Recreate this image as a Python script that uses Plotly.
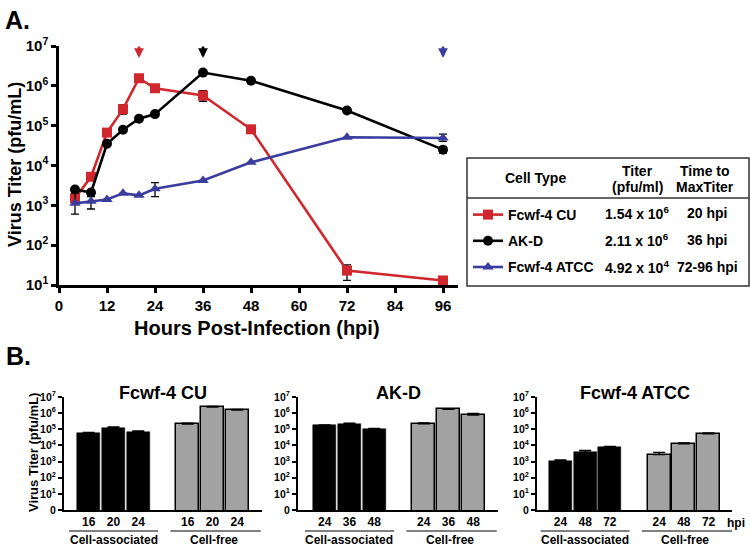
import plotly.graph_objects as go

W, H = 750, 549
def px(x): return x / W
def py(y): return 1 - y / H

FONT = "Liberation Sans, Arial, Helvetica, sans-serif"
RED = "#d0262d"
BLUE = "#3b3d9e"
BLACK = "#000000"
GRAY = "#a2a2a2"

# ---------------- Panel A data ----------------
hpi = [4, 8, 12, 16, 20, 24, 36, 48, 72, 96]
cu_titer = [1.5e3, 5.2e3, 6.7e4, 2.6e5, 1.55e6, 8.7e5, 5.7e5, 8.1e4, 23, 13]
cu_err_up = [0, 0, 0, 7e4, 0, 0, 1.9e5, 0, 9, 0]
cu_err_dn = [0, 0, 0, 6.5e4, 0, 0, 1.6e5, 0, 10, 0]
akd_titer = [2.5e3, 2.1e3, 3.5e4, 7.9e4, 1.5e5, 1.95e5, 2.15e6, 1.34e6, 2.4e5, 2.5e4]
akd_err_up = [0, 0, 0, 0, 0, 0, 0, 0, 0, 4.5e3]
akd_err_dn = [0, 0, 0, 0, 0, 0, 0, 0, 0, 4.5e3]
atcc_titer = [1.12e3, 1.26e3, 1.4e3, 2.0e3, 1.78e3, 2.6e3, 4.2e3, 1.2e4, 5.1e4, 4.92e4]
atcc_err_up = [9e2, 4e2, 0, 0, 0, 1.1e3, 0, 0, 0, 1.2e4]
atcc_err_dn = [5.2e2, 4.5e2, 0, 0, 0, 9.5e2, 0, 0, 0, 9e3]

series_names = ["Fcwf-4 CU", "AK-D", "Fcwf-4 ATCC"]
series_colors = [RED, BLACK, BLUE]
series_symbols = ["square", "circle", "triangle-up"]
peak_hpi = [20, 36, 96]

x_ticks_a = [0, 12, 24, 36, 48, 60, 72, 84, 96]
y_ticks_a = [1e1, 1e2, 1e3, 1e4, 1e5, 1e6, 1e7]
y_ticktext_a = ["10<sup>%d</sup>" % i for i in range(1, 8)]

# table
table_titer = ["1.54 x 10<sup>6</sup>", "2.11 x 10<sup>6</sup>", "4.92 x 10<sup>4</sup>"]
table_time = ["20 hpi", "36 hpi", "72-96 hpi"]

# ---------------- Panel B data ----------------
b_titles = ["Fcwf-4 CU", "AK-D", "Fcwf-4 ATCC"]
b_hpi_labels = [["16", "20", "24"], ["24", "36", "48"], ["24", "48", "72"]]
b_assoc = [[5.5e4, 1.2e5, 6.9e4], [1.75e5, 2.2e5, 1.07e5], [1.1e3, 3.8e3, 8.1e3]]
b_assoc_err = [[1.0e4, 2e4, 1e4], [1.5e4, 2e4, 5e3], [1.5e2, 1.2e3, 5e2]]
b_free = [[2.1e5, 2.4e6, 1.55e6], [2.2e5, 1.7e6, 7.6e5], [2.7e3, 1.26e4, 5.2e4]]
b_free_err = [[3e4, 2e5, 1.5e5], [3e4, 2e5, 2.2e5], [1e3, 1.5e3, 8e3]]
b_y_ticks = [1, 1e1, 1e2, 1e3, 1e4, 1e5, 1e6, 1e7]
b_y_ticktext = ["0"] + ["10<sup>%d</sup>" % i for i in range(1, 8)]

fig = go.Figure()

# Panel A traces
a_vals = [cu_titer, akd_titer, atcc_titer]
a_up = [cu_err_up, akd_err_up, atcc_err_up]
a_dn = [cu_err_dn, akd_err_dn, atcc_err_dn]
for i in range(3):
    fig.add_trace(go.Scatter(
        x=hpi, y=a_vals[i], name=series_names[i], mode="lines+markers",
        line=dict(color=series_colors[i], width=2.6),
        marker=dict(symbol=series_symbols[i], size=10, color=series_colors[i]),
        error_y=dict(type="data", array=a_up[i], arrayminus=a_dn[i], symmetric=False,
                     color="black", thickness=1.3, width=4),
        legendgroup="g%d" % i, cliponaxis=False,
        xaxis="x", yaxis="y",
    ))

# Panel B traces
b_xpos_assoc = [0, 1, 2]
b_xpos_free = [4, 5, 6]
for k in range(3):
    xa = "x%d" % (k + 2)
    ya = "y%d" % (k + 2)
    fig.add_trace(go.Bar(
        x=b_xpos_assoc, y=b_assoc[k], width=0.93, showlegend=False,
        marker=dict(color=BLACK, line=dict(color=BLACK, width=0.5)),
        error_y=dict(type="data", array=b_assoc_err[k], arrayminus=[0, 0, 0], symmetric=False,
                     color="black", thickness=1.3, width=6),
        xaxis=xa, yaxis=ya,
    ))
    fig.add_trace(go.Bar(
        x=b_xpos_free, y=b_free[k], width=0.93, showlegend=False,
        marker=dict(color=GRAY, line=dict(color=BLACK, width=1.5)),
        error_y=dict(type="data", array=b_free_err[k], arrayminus=[0, 0, 0], symmetric=False,
                     color="black", thickness=1.3, width=6),
        xaxis=xa, yaxis=ya,
    ))

layout = dict(
    width=W, height=H, margin=dict(l=0, r=0, t=0, b=0, autoexpand=False),
    paper_bgcolor="white", plot_bgcolor="rgba(0,0,0,0)",
    font=dict(family=FONT, color="black"),
    showlegend=True,
    legend=dict(x=px(468), y=py(199), xanchor="left", yanchor="top",
                bgcolor="rgba(0,0,0,0)", borderwidth=0,
                font=dict(family=FONT, size=14, color="black", weight="bold"),
                traceorder="grouped", tracegroupgap=5, itemwidth=30),
    bargap=0,
    xaxis=dict(domain=[px(59), px(458)], range=[0, 99.75], anchor="y",
               tickvals=x_ticks_a, ticks="outside", ticklen=5, tickwidth=2.5, tickcolor="black",
               showline=True, linewidth=2.5, linecolor="black", showgrid=False, zeroline=False,
               tickfont=dict(family=FONT, size=15, color="black", weight="bold")),
    yaxis=dict(domain=[py(285), py(46)], type="log", range=[1, 7], anchor="x",
               tickvals=y_ticks_a, ticktext=y_ticktext_a, ticks="outside", ticklen=5,
               tickwidth=2.5, tickcolor="black",
               showline=True, linewidth=2.5, linecolor="black", showgrid=False, zeroline=False,
               tickfont=dict(family=FONT, size=15, color="black", weight="bold")),
)

b_domains = [(64, 262, -1.0, 7.0), (298, 498, -1.08, 7.0), (537, 732, -0.95, 6.95)]
for k, (x0, x1, r0, r1) in enumerate(b_domains):
    n = k + 2
    layout["xaxis%d" % n] = dict(
        domain=[px(x0), px(x1)], range=[r0, r1], anchor="y%d" % n,
        tickvals=b_xpos_assoc + b_xpos_free, ticktext=b_hpi_labels[k] + b_hpi_labels[k],
        ticks="", showline=True, linewidth=2, linecolor="black", showgrid=False, zeroline=False,
        tickfont=dict(family=FONT, size=12, color="black", weight="bold"))
    layout["yaxis%d" % n] = dict(
        domain=[py(510), py(397)], type="log", range=[0, 7], anchor="x%d" % n,
        tickvals=b_y_ticks, ticktext=b_y_ticktext, ticks="outside", ticklen=4,
        tickwidth=1.5, tickcolor="black", showline=True, linewidth=2, linecolor="black",
        showgrid=False, zeroline=False,
        tickfont=dict(family=FONT, size=10.5, color="black", weight="bold"))

fig.update_layout(**layout)

def bold(t):
    return "<b>%s</b>" % t

ann = []
# Panel labels
ann.append(dict(text=bold("A."), x=px(3), y=py(20), xref="paper", yref="paper",
                xanchor="left", yanchor="middle", showarrow=False, font=dict(size=25)))
ann.append(dict(text=bold("B."), x=px(4), y=py(356), xref="paper", yref="paper",
                xanchor="left", yanchor="middle", showarrow=False, font=dict(size=25)))
# Panel A axis titles
ann.append(dict(text=bold("Hours Post-Infection (hpi)"), x=px(257), y=py(328), xref="paper",
                yref="paper", xanchor="center", yanchor="middle", showarrow=False,
                font=dict(size=20)))
ann.append(dict(text=bold("Virus Titer (pfu/mL)"), x=px(15), y=py(165), xref="paper",
                yref="paper", xanchor="center", yanchor="middle", showarrow=False,
                textangle=-90, font=dict(size=18)))
# Peak arrows
for i in range(3):
    ann.append(dict(text="", x=peak_hpi[i], y=6.70, xref="x", yref="y", ax=0, ay=-12,
                    showarrow=True, arrowhead=2, arrowsize=0.75, arrowwidth=2.6,
                    arrowcolor=series_colors[i], font=dict(size=1), borderpad=0,
                    standoff=0))
# Table header
hdr = [("Cell Type", 535, 178), ("Titer", 637, 171), ("(pfu/ml)", 637, 187),
       ("Time to", 705, 171), ("MaxTiter", 705, 187)]
for t, x, y in hdr:
    ann.append(dict(text=bold(t), x=px(x), y=py(y), xref="paper", yref="paper",
                    xanchor="center", yanchor="middle", showarrow=False, font=dict(size=14)))
row_y = [213, 240, 267]
for i in range(3):
    ann.append(dict(text=bold(table_titer[i]), x=px(637), y=py(row_y[i]), xref="paper",
                    yref="paper", xanchor="center", yanchor="middle", showarrow=False,
                    font=dict(size=14)))
    ann.append(dict(text=bold(table_time[i]), x=px(707), y=py(row_y[i]), xref="paper",
                    yref="paper", xanchor="center", yanchor="middle", showarrow=False,
                    font=dict(size=14)))
# Panel B titles & group labels
for k in range(3):
    n = k + 2
    ann.append(dict(text=bold(b_titles[k]), x=0.5, y=py(393), xref="x%d domain" % n,
                    yref="paper", xanchor="center", yanchor="middle", showarrow=False,
                    font=dict(size=18)))
    ann.append(dict(text=bold("Cell-associated"), x=1.0, y=py(540), xref="x%d" % n,
                    yref="paper", xanchor="center", yanchor="middle", showarrow=False,
                    font=dict(size=12)))
    ann.append(dict(text=bold("Cell-free"), x=5.05, y=py(540), xref="x%d" % n,
                    yref="paper", xanchor="center", yanchor="middle", showarrow=False,
                    font=dict(size=12)))
ann.append(dict(text=bold("Virus Titer (pfu/mL)"), x=px(33), y=py(453), xref="paper",
                yref="paper", xanchor="center", yanchor="middle", showarrow=False,
                textangle=-90, font=dict(size=13)))
ann.append(dict(text=bold("hpi"), x=px(747), y=py(523), xref="paper", yref="paper",
                xanchor="right", yanchor="middle", showarrow=False, font=dict(size=12)))

shapes = []
shapes.append(dict(type="rect", xref="paper", yref="paper", x0=px(467), x1=px(749),
                   y0=py(286), y1=py(158), line=dict(color="#333333", width=1.5)))
shapes.append(dict(type="line", xref="paper", yref="paper", x0=px(467), x1=px(749),
                   y0=py(198), y1=py(198), line=dict(color="#333333", width=1.5)))
for k in range(3):
    n = k + 2
    shapes.append(dict(type="line", xref="x%d" % n, yref="paper", x0=-0.8, x1=2.8,
                       y0=py(531), y1=py(531), line=dict(color="black", width=1)))
    shapes.append(dict(type="line", xref="x%d" % n, yref="paper", x0=3.3, x1=6.95,
                       y0=py(531), y1=py(531), line=dict(color="black", width=1)))

fig.update_layout(annotations=ann, shapes=shapes)
fig.write_html("out.html", config={"displayModeBar": False},
               post_script="document.body.style.margin='0px';document.body.style.overflow='hidden';")
